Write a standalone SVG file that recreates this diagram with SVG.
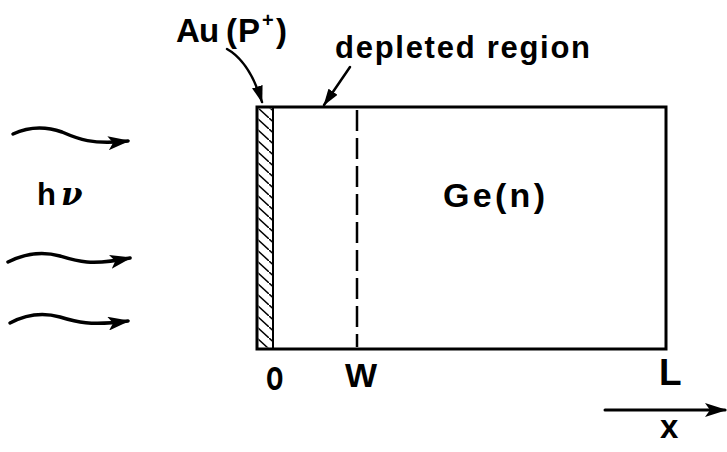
<svg xmlns="http://www.w3.org/2000/svg" width="727" height="452" viewBox="0 0 727 452">
<style>
.t{font-family:"Liberation Sans","DejaVu Sans",Arial,sans-serif;font-weight:bold;fill:#000;}
.ln{fill:none;stroke:#000;stroke-linecap:round;}
</style>
<defs>
<marker id="ah" viewBox="0 0 22 14" refX="20" refY="7" markerUnits="userSpaceOnUse" markerWidth="22" markerHeight="14" orient="auto">
<path d="M0,0 L22,7 L0,14 L5,7 Z" fill="#000"/>
</marker>
<marker id="ah2" viewBox="0 0 17 11" refX="16" refY="5.5" markerUnits="userSpaceOnUse" markerWidth="17" markerHeight="11" orient="auto">
<path d="M0,0 L17,5.5 L0,11 Z" fill="#000"/>
</marker>
<pattern id="hatch" patternUnits="userSpaceOnUse" x="257" y="107" width="12" height="11">
<path d="M-1,-0.9 L13,11.9" stroke="#000" stroke-width="1.5"/>
</pattern>
</defs>
<g id="device">
<rect x="257" y="107" width="409" height="242" fill="#fff" stroke="#000" stroke-width="3"/>
<rect id="au-layer" x="258.5" y="108.5" width="14" height="239" fill="url(#hatch)" stroke="none"/>
<line x1="273" y1="107" x2="273" y2="349" stroke="#000" stroke-width="2"/>
<line x1="357" y1="110" x2="357" y2="347" stroke="#000" stroke-width="2.5" stroke-dasharray="21 7"/>
</g>
<g id="connectors">
<path class="ln" d="M13,134 C28,127 45,126 62,132 C78,139 92,145 128,141" stroke-width="3.5" marker-end="url(#ah)"/>
<path class="ln" d="M8,262 C24,254 42,251 60,256 C76,261 90,266 130,258" stroke-width="3.5" marker-end="url(#ah)"/>
<path class="ln" d="M10,323 C25,315 42,312 60,317 C76,322 90,326 128,321" stroke-width="3.5" marker-end="url(#ah)"/>
<path class="ln" d="M227,49 C243,58 254,76 262,102" stroke-width="2.5" marker-end="url(#ah2)"/>
<path class="ln" d="M350,67 L324,105" stroke-width="2.5" marker-end="url(#ah2)"/>
<path class="ln" d="M605,410 L725,410" stroke-width="3" marker-end="url(#ah)"/>
</g>
<g id="labels">
<text class="t" font-size="33" y="42"><tspan x="176">A</tspan><tspan x="199">u</tspan><tspan x="226">(</tspan><tspan x="238">P</tspan><tspan x="262" y="27" font-size="20">+</tspan><tspan x="276" y="42">)</tspan></text>
<text class="t" x="335" y="58" font-size="31" textLength="255" lengthAdjust="spacing">depleted region</text>
<text class="t" x="443" y="207" font-size="34" textLength="102" lengthAdjust="spacing">Ge(n)</text>
<text class="t" x="37" y="205" font-size="31">h<tspan dx="5" font-family="'DejaVu Serif',serif" font-style="italic" font-size="31">ν</tspan></text>
<text class="t" font-size="42" transform="translate(266,390) scale(0.68,1)">o</text>
<text class="t" x="345" y="387" font-size="34">W</text>
<text class="t" x="659" y="385" font-size="37">L</text>
<text class="t" x="660" y="438" font-size="33">x</text>
</g>
</svg>
